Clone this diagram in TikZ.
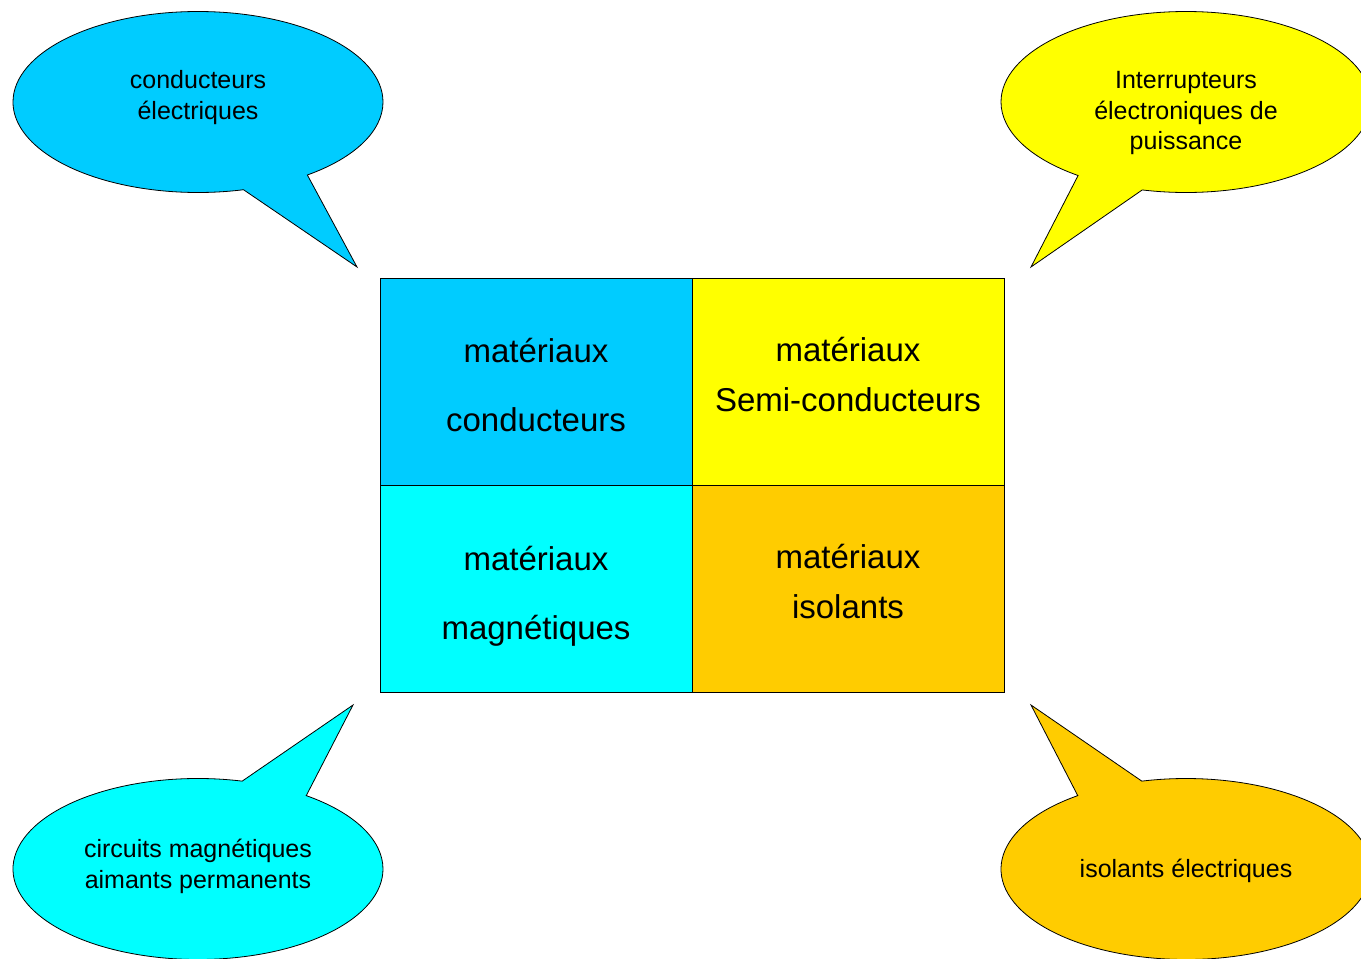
\documentclass[tikz,border=0pt]{standalone}
\usepackage{fontspec}
\setmainfont{Liberation Sans}
\usepackage{xcolor}
\usetikzlibrary{positioning,shapes.callouts}

\definecolor{bleu}{HTML}{00CCFF}
\definecolor{jaune}{HTML}{FFFF00}
\definecolor{turquoise}{HTML}{00FFFF}
\definecolor{orangeclair}{HTML}{FFCC00}

\begin{document}
\begin{tikzpicture}[
  x=1pt,y=-1pt,
  cell/.style={draw,line width=1pt,minimum width=312pt,minimum height=207pt,outer sep=0pt,inner sep=0pt},
  celltext/.style={align=center,inner sep=0pt,font=\fontsize{33}{50}\selectfont},
  bulle/.style={ellipse callout,draw,line width=0.8pt,minimum width=370pt,minimum height=181pt,callout pointer arc=22},
  bulletext/.style={align=center,inner sep=0pt,font=\fontsize{25}{30.5}\selectfont}]
  \useasboundingbox (0,0) rectangle (1361,959);
  % the four families of materials
  \node[cell,fill=bleu] (cond) at (536,381.5) {};
  \node[cell,fill=jaune,right=0pt of cond] (semi) {};
  \node[cell,fill=turquoise,below=0pt of cond] (magn) {};
  \node[cell,fill=orangeclair,right=0pt of magn] (isol) {};
  \node[celltext] (tcond) at ([yshift=-4pt]cond.center) {matériaux\\[19pt]conducteurs};
  \node[celltext] (tsemi) at ([yshift=6.5pt]semi.center) {matériaux\\Semi-conducteurs};
  \node[celltext] (tmagn) at ([yshift=-7.5pt]magn.center) {matériaux\\[19pt]magnétiques};
  \node[celltext] (tisol) at ([yshift=6.5pt]isol.center) {matériaux\\isolants};
  % what they are used for
  \node[bulle,fill=bleu,callout absolute pointer={([shift={(-23,-11)}]cond.north west)}] (bcond) at (198,102) {};
  \node[bulle,fill=jaune,callout absolute pointer={([shift={(27,-11)}]semi.north east)}] (bsemi) at (1186,102) {};
  \node[bulle,fill=turquoise,callout absolute pointer={([shift={(-27,13)}]magn.south west)}] (bmagn) at (198,869) {};
  \node[bulle,fill=orangeclair,callout absolute pointer={([shift={(27,13)}]isol.south east)}] (bisol) at (1186,869) {};
  \node[bulletext] (tbcond) at ([yshift=4.5pt]bcond.center) {conducteurs\\électriques};
  \node[bulletext] (tbsemi) at ([yshift=-11pt]bsemi.center) {Interrupteurs\\électroniques de\\puissance};
  \node[bulletext] (tbmagn) at ([yshift=2.5pt]bmagn.center) {circuits magnétiques\\aimants permanents};
  \node[bulletext] (tbisol) at ([yshift=-2pt]bisol.center) {isolants électriques};
\end{tikzpicture}
\end{document}
